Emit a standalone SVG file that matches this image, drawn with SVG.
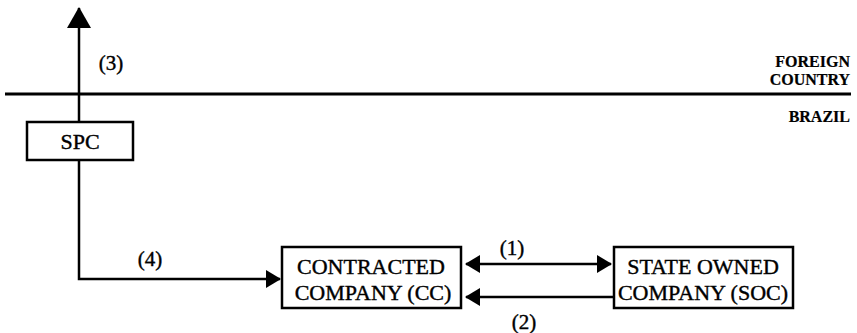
<svg xmlns="http://www.w3.org/2000/svg" width="857" height="333" viewBox="0 0 857 333">
<style>
  text { font-family: "Liberation Serif", "Times New Roman", serif; fill: #000; stroke: #000; stroke-width: 0.4; }
  .box { fill: #fff; stroke: #000; stroke-width: 2.5; }
  .lbl { font-size: 21px; text-anchor: middle; }
  .node { font-size: 22px; text-anchor: middle; }
  .reg { font-size: 16px; text-anchor: end; font-weight: bold; stroke-width: 0.2; }
  .ln { stroke: #000; stroke-width: 2.5; fill: none; }
</style>
<defs>
  <marker id="ah" viewBox="0 0 15 18" refX="14" refY="9" markerWidth="15" markerHeight="18" markerUnits="userSpaceOnUse" orient="auto-start-reverse">
    <path d="M0,0 L15,9 L0,18 Z" fill="#000"/>
  </marker>
  <marker id="ahBig" viewBox="0 0 21 24" refX="20" refY="12" markerWidth="21" markerHeight="24" markerUnits="userSpaceOnUse" orient="auto">
    <path d="M0,0 L21,12 L0,24 Z" fill="#000"/>
  </marker>
</defs>

<g id="border-line">
  <line x1="5" y1="94" x2="851" y2="94" stroke="#000" stroke-width="3"/>
  <text class="reg" x="850" y="67">FOREIGN</text>
  <text class="reg" x="850" y="85">COUNTRY</text>
  <text class="reg" x="850" y="122">BRAZIL</text>
</g>

<g id="connectors">
  <line class="ln" x1="79" y1="160" x2="79" y2="8" marker-end="url(#ahBig)"/>
  <polyline class="ln" points="79,160 79,279 280,279" marker-end="url(#ah)"/>
  <line class="ln" x1="466" y1="264" x2="611" y2="264" marker-start="url(#ah)" marker-end="url(#ah)"/>
  <line class="ln" x1="614" y1="297" x2="466" y2="297" marker-end="url(#ah)"/>
  <text class="lbl" x="111" y="70">(3)</text>
  <text class="lbl" x="150" y="266">(4)</text>
  <text class="lbl" x="512" y="255">(1)</text>
  <text class="lbl" x="524" y="329">(2)</text>
</g>

<g id="spc">
  <rect class="box" x="27" y="122" width="106" height="38"/>
  <text class="node" x="80" y="149">SPC</text>
</g>

<g id="cc">
  <rect class="box" x="282" y="247" width="179" height="61"/>
  <text class="node" x="371" y="274">CONTRACTED</text>
  <text class="node" x="373" y="300">COMPANY (CC)</text>
</g>

<g id="soc">
  <rect class="box" x="614" y="247" width="179" height="61"/>
  <text class="node" x="703" y="274">STATE OWNED</text>
  <text class="node" x="703" y="300">COMPANY (SOC)</text>
</g>
</svg>
